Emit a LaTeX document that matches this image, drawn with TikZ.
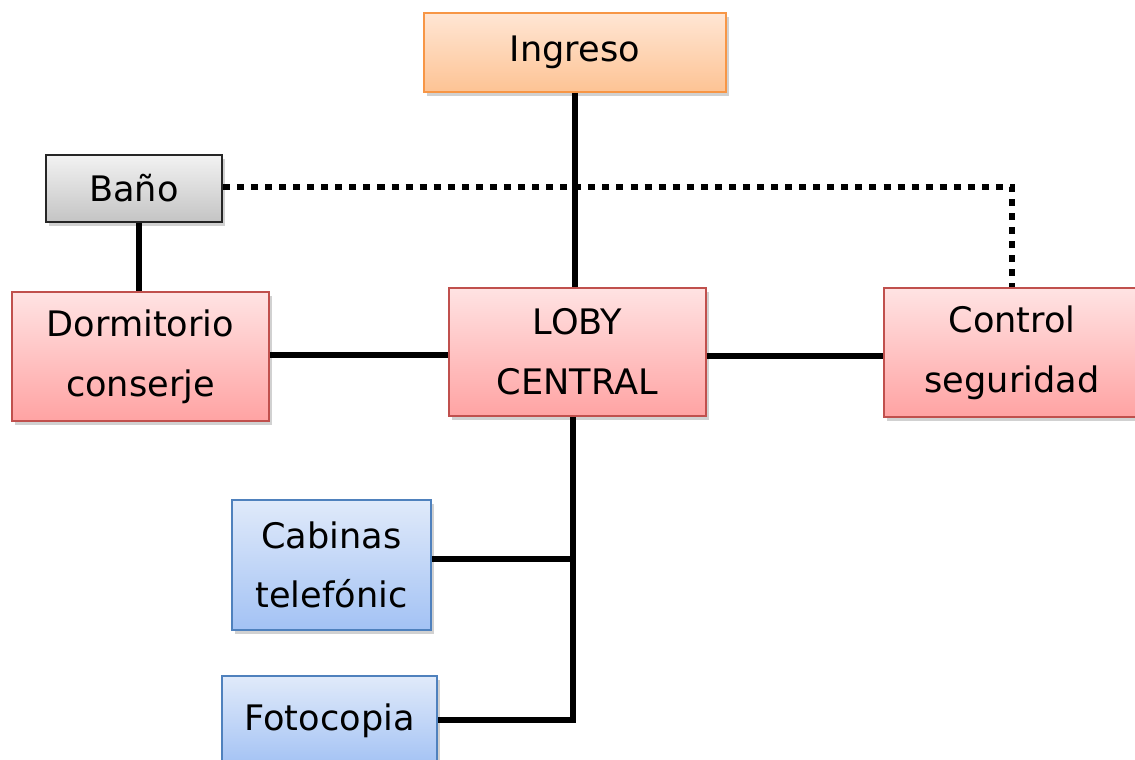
\documentclass[tikz,border=0pt]{standalone}
\usepackage{fontspec}
\setmainfont{DejaVu Sans}
\usetikzlibrary{shadows}
\definecolor{orgline}{HTML}{F79646}
\definecolor{orgtop}{HTML}{FFE6D4}
\definecolor{orgbot}{HTML}{FDC394}
\definecolor{redline}{HTML}{C0504D}
\definecolor{redtop}{HTML}{FFE3E3}
\definecolor{redbot}{HTML}{FFA3A3}
\definecolor{blueline}{HTML}{4F81BD}
\definecolor{bluetop}{HTML}{E0EAFA}
\definecolor{bluebot}{HTML}{A3C2F4}
\definecolor{graytop}{HTML}{F2F2F2}
\definecolor{graybot}{HTML}{C4C4C4}
\tikzset{
  box/.style={rectangle, line width=1pt, inner sep=0pt, align=center,
    font=\fontsize{20}{34}\selectfont,
    drop shadow={shadow xshift=1.5pt, shadow yshift=-2pt, opacity=0.3, fill=black!60}},
  orangebox/.style={box, draw=orgline, top color=orgtop, bottom color=orgbot},
  redbox/.style={box, draw=redline, top color=redtop, bottom color=redbot},
  bluebox/.style={box, draw=blueline, top color=bluetop, bottom color=bluebot},
  graybox/.style={box, draw=black!85, top color=graytop, bottom color=graybot},
  link/.style={line width=3.4pt, black},
  dotlink/.style={line width=3.4pt, black, dash pattern=on 4pt off 4pt}
}
\begin{document}
\begin{tikzpicture}[x=0.02cm, y=-0.02cm]
  \useasboundingbox (0,0) rectangle (1135,760);
  % rooms
  \node[orangebox, minimum width=302*0.02cm, minimum height=79*0.02cm] (ing) at (575,52.5) {Ingreso};
  \node[graybox, minimum width=176*0.02cm, minimum height=67*0.02cm] (bano) at (134,188.5) {Baño};
  \node[redbox, minimum width=257*0.02cm, minimum height=129*0.02cm] (dorm) at (140.5,356.5) {Dormitorio\\conserje};
  \node[redbox, minimum width=257*0.02cm, minimum height=128*0.02cm] (loby) at (577.5,352) {LOBY\\CENTRAL};
  \node[redbox, minimum width=256*0.02cm, minimum height=129*0.02cm] (ctrl) at (1012,352.5) {Control\\seguridad};
  \node[bluebox, minimum width=199*0.02cm, minimum height=130*0.02cm] (cab) at (331.5,565) {Cabinas\\telefónic};
  \node[bluebox, minimum width=215*0.02cm, minimum height=90*0.02cm] (foto) at (329.5,721) {Fotocopia};
  % junction points on the central trunk and the corner of the dotted link
  \coordinate (jcab) at (573,559);
  \coordinate (jfoto) at (573,720);
  \coordinate (dcorner) at (1012,187);
  % connectors
  \draw[link] (ing.south -| 575,0) -- (loby.north -| 575,0);
  \draw[link] (bano.south -| 139,0) -- (dorm.north -| 139,0);
  \draw[link] (dorm.east |- 0,355) -- (loby.west |- 0,355);
  \draw[link] (loby.east |- 0,356) -- (ctrl.west |- 0,356);
  \draw[link] (loby.south -| jcab) -- (jfoto) -- (foto.east |- jfoto);
  \draw[link] (jcab) -- (cab.east |- jcab);
  \draw[dotlink] (bano.east |- dcorner) -- (dcorner) -- (ctrl.north -| dcorner);
\end{tikzpicture}
\end{document}
